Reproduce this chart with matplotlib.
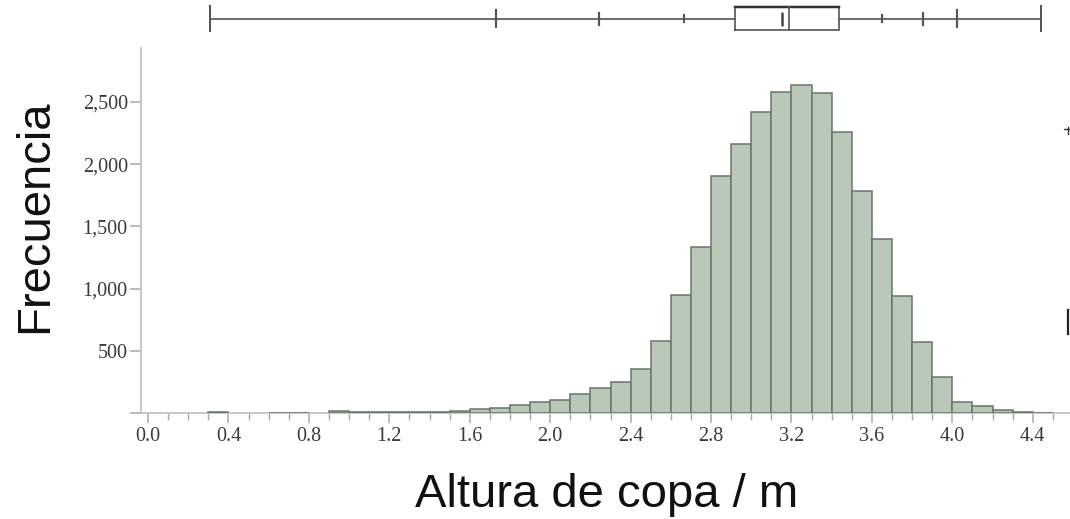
import numpy as np
import matplotlib
matplotlib.use("Agg")
import matplotlib.pyplot as plt
from matplotlib.ticker import MultipleLocator, FuncFormatter
from matplotlib.lines import Line2D

# ---- data ----
bin_width = 0.1
bin_starts = [round(i * 0.1, 1) for i in range(45)]  # 0.0 ... 4.4
counts = [0, 0, 0, 9, 0, 0, 5, 5, 0, 16,
          10, 14, 14, 14, 12, 22, 32, 42, 63, 90,
          108, 157, 206, 250, 358, 583, 948, 1333, 1906, 2163,
          2422, 2583, 2637, 2575, 2262, 1788, 1400, 942, 573, 294,
          93, 61, 27, 8, 5]

# quantile box plot summary (JMP style)
q_min, q_max = 0.31, 4.44
q_005, q_025, q_10 = 1.73, 2.244, 2.667
q_25, q_median, q_75 = 2.919, 3.187, 3.438
q_90, q_975, q_995 = 3.648, 3.855, 4.024
mean_val = 3.155

x_ticks = [0.0, 0.4, 0.8, 1.2, 1.6, 2.0, 2.4, 2.8, 3.2, 3.6, 4.0, 4.4]
y_ticks = [0, 500, 1000, 1500, 2000, 2500]

x_label = "Altura de copa / m"
y_label = "Frecuencia"

# ---- figure ----
W, H = 1070, 519
fig = plt.figure(figsize=(W / 100, H / 100), dpi=100)

def fx(px):
    return px / W

def fy(py):
    return 1 - py / H

ax_left, ax_right, ax_bot, ax_top = 141, 1070, 413.3, 48
ax = fig.add_axes([fx(ax_left), fy(ax_bot), fx(ax_right - ax_left), (ax_bot - ax_top) / H])

fill_c = "#b9c8b8"
edge_c = "#687668"
starts = np.array(bin_starts)
cnts = np.array(counts)
mask = cnts > 0
ax.bar(starts[mask], cnts[mask], width=bin_width, align="edge",
       color=fill_c, edgecolor=edge_c, linewidth=1.1, zorder=3)

ax.set_xlim(-0.0348, 4.585)
ax.set_ylim(0, 2933)

for s in ["top", "right"]:
    ax.spines[s].set_visible(False)
for s in ["left", "bottom"]:
    ax.spines[s].set_color("#c4c4c4")
    ax.spines[s].set_linewidth(1.3)

ax.set_xticks(x_ticks)
ax.xaxis.set_minor_locator(MultipleLocator(0.1))
ax.xaxis.set_major_formatter(FuncFormatter(lambda v, p: f"{v:.1f}"))
ax.set_yticks(y_ticks)
ax.set_yticklabels(["" if v == 0 else f"{v:,}" for v in y_ticks])

serif = ["Liberation Serif", "DejaVu Serif"]
ax.tick_params(axis="both", which="major", colors="#a8a8a8", labelcolor="#3a3a3a",
               labelsize=14.5, width=1.1)
ax.tick_params(axis="x", which="major", length=7, pad=3)
ax.tick_params(axis="x", which="minor", length=5, width=1.0, colors="#a8a8a8")
ax.tick_params(axis="y", which="major", length=8, pad=1.5)
for lbl in ax.get_xticklabels() + ax.get_yticklabels():
    lbl.set_family(serif)

# ---- quantile box plot on top ----
bax = fig.add_axes([fx(ax_left), fy(34), fx(ax_right - ax_left), 30 / H], sharex=ax)
bax.set_ylim(-15, 15)  # pixel-like units: 1 unit = 1 px
bax.axis("off")
lc = "#555555"
lw = 1.2
yc = 0.5
bax.plot([q_min, q_25], [yc, yc], color=lc, lw=lw)
bax.plot([q_75, q_max], [yc, yc], color=lc, lw=lw)
# caps
for v in (q_min, q_max):
    bax.plot([v, v], [yc - 12.5, yc + 12.5], color=lc, lw=lw * 1.2)
for v, h in ((q_005, 8.8), (q_995, 8.8), (q_025, 6), (q_975, 6), (q_10, 3.6), (q_90, 3.6)):
    bax.plot([v, v], [yc - h, yc + h], color=lc, lw=lw * 1.3)
# box
box_bot, box_top = yc - 11.7, yc + 11.7
bax.plot([q_25, q_75, q_75, q_25, q_25], [box_bot, box_bot, box_top, box_top, box_bot],
         color=lc, lw=lw, solid_joinstyle="miter")
bax.plot([q_25, q_75], [box_top, box_top], color="#333333", lw=lw * 1.5)
bax.plot([q_median, q_median], [box_bot, box_top], color=lc, lw=lw)
bax.plot([mean_val, mean_val], [yc - 6, yc + 6], color="#444444", lw=1.8,
         solid_capstyle="round")

# ---- axis labels ----
fig.text(fx(35.5), fy(216.5), y_label, rotation=90, ha="center", va="center",
         family=["Liberation Sans", "DejaVu Sans"], fontsize=34, color="#111111")
fig.text(fx(607), fy(507), x_label, ha="center", va="baseline",
         family=["Liberation Sans", "DejaVu Sans"], fontsize=34, color="#111111")

# small marks at the right edge (from an adjacent panel in the reference)
fig.add_artist(Line2D([fx(1064), fx(1070)], [fy(129), fy(129)], color="#333333", lw=1.0))
fig.add_artist(Line2D([fx(1067.5), fx(1067.5)], [fy(127), fy(134)], color="#333333", lw=1.0))
fig.add_artist(Line2D([fx(1068), fx(1068)], [fy(310), fy(334)], color="#222222", lw=1.6))

fig.savefig("out.png", dpi=100)
